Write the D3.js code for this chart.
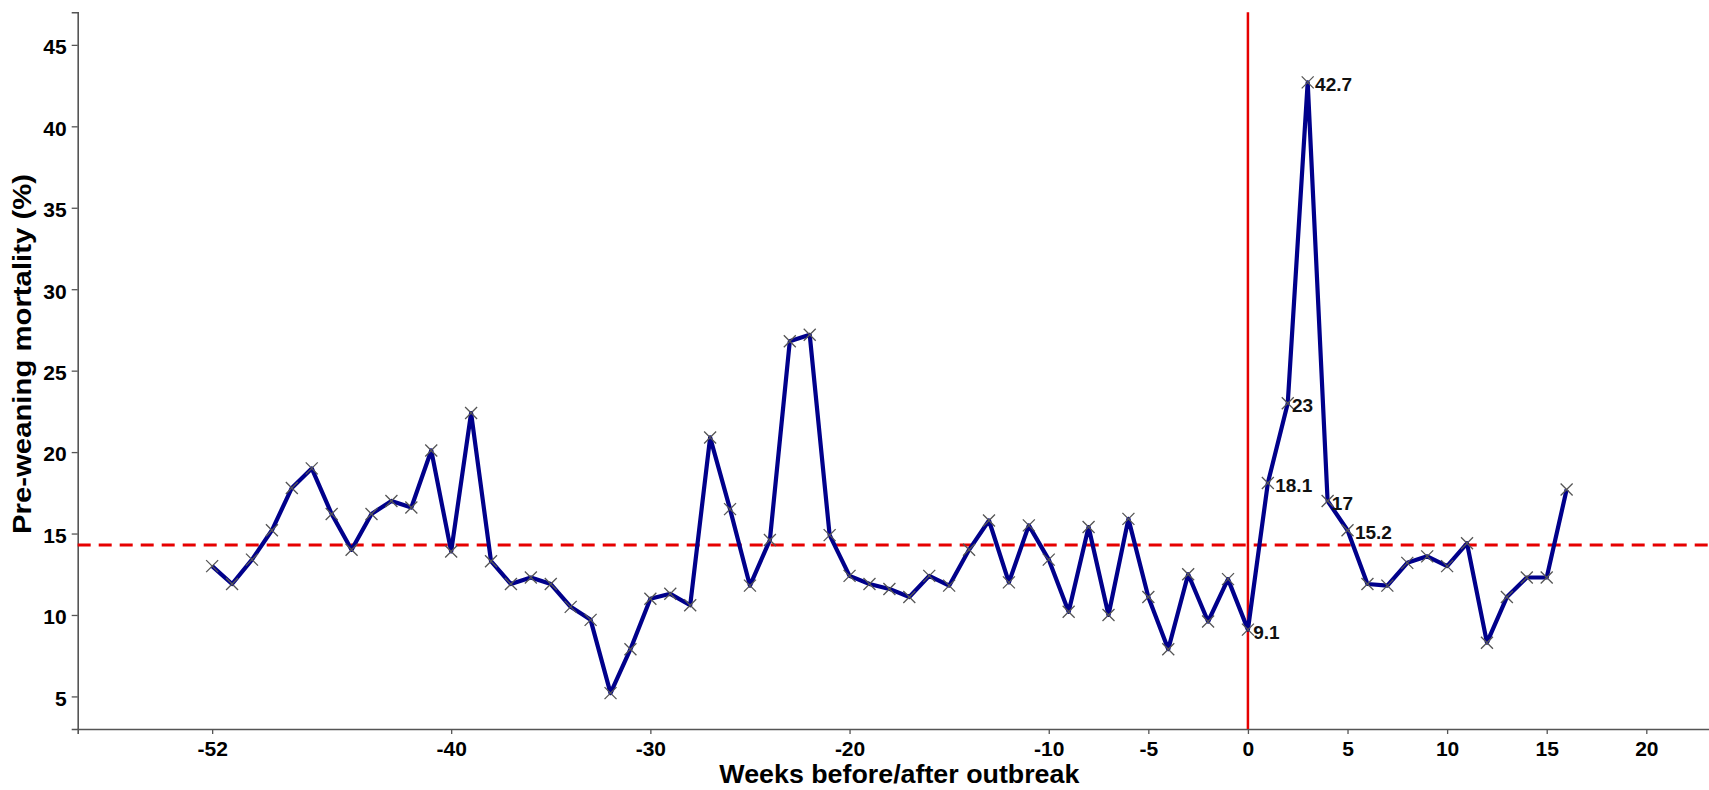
<!DOCTYPE html>
<html>
<head>
<meta charset="utf-8">
<script src="https://cdn.jsdelivr.net/npm/d3@7"></script>
<style>
  body { margin: 0; background: #fff; }
  svg { display: block; font-family: "Liberation Sans", Arial, sans-serif; }
</style>
</head>
<body>
<div id="chart"></div>
<script>
var width = 1709,
  height = 790;

// weeks relative to the outbreak (week 0)
var weeks = [-52, -51, -50, -49, -48, -47, -46, -45, -44, -43, -42, -41, -40, -39, -38, -37, -36, -35,
  -34, -33, -32, -31, -30, -29, -28, -27, -26, -25, -24, -23, -22, -21, -20, -19, -18, -17, -16, -15,
  -14, -13, -12, -11, -10, -9, -8, -7, -6, -5, -4, -3, -2, -1, 0, 1, 2, 3, 4, 5, 6, 7, 8, 9, 10,
  11, 12, 13, 14, 15, 16];

// pre-weaning mortality (%)
var mortality = [13.0, 11.9, 13.4, 15.2, 17.8, 19.0, 16.2, 14.0, 16.2, 17.0, 16.6, 20.1, 13.9, 22.4, 13.3, 11.9, 12.3, 11.9,
  10.5, 9.7, 5.2, 7.9, 11.0, 11.3, 10.6, 20.9, 16.5, 11.8, 14.6, 26.8, 27.2, 14.9, 12.4, 11.9, 11.6, 11.1, 12.4, 11.8,
  14.0, 15.8, 12.0, 15.5, 13.4, 10.2, 15.4, 10.0, 15.9, 11.1, 7.9, 12.5, 9.6, 12.2, 9.1, 18.1, 23.0, 42.7, 17.0, 15.2, 11.9, 11.8, 13.2, 13.6, 13.0,
  14.4, 8.3, 11.1, 12.3, 12.3, 17.7];

var labelWeeks = [0, 1, 2, 3, 4, 5];
var labelTexts = ["9.1", "18.1", "23", "42.7", "17", "15.2"];

var baseline = 14.3;
var outbreakWeek = 0;

var xTicks = [-52, -40, -30, -20, -10, -5, 0, 5, 10, 15, 20];
var yTicks = [5, 10, 15, 20, 25, 30, 35, 40, 45];

var data = weeks.map(function(w, i) { return { week: w, value: mortality[i] }; });

var plotLeft = 77.7, plotTop = 12.3, plotBottom = 729, plotRight = 1721;

var x = d3.scaleLinear().domain([-58.75, 23.75]).range([plotLeft, plotRight]);
var y = d3.scaleLinear().domain([3, 47]).range([plotBottom, plotTop]);

var svg = d3.select("#chart").append("svg")
  .attr("width", width)
  .attr("height", height);

// axes
var xAxis = svg.append("g")
  .attr("transform", "translate(0," + plotBottom + ")")
  .call(d3.axisBottom(x).tickValues(xTicks).tickFormat(function(d) { return String(d); })
    .tickSizeOuter(0).tickSize(5).tickPadding(7));

var yAxis = svg.append("g")
  .attr("transform", "translate(" + plotLeft + ",0)")
  .call(d3.axisLeft(y).tickValues(yTicks).tickSizeOuter(0).tickSize(6).tickPadding(5));

[xAxis, yAxis].forEach(function(a) {
  a.select(".domain").attr("stroke", "#555").attr("stroke-width", 1.6);
  a.selectAll(".tick line").attr("stroke", "#555").attr("stroke-width", 1.3);
  a.selectAll(".tick text")
    .attr("fill", "#000")
    .style("font-size", "21px")
    .style("font-weight", "bold");
});
yAxis.selectAll(".tick text").attr("dy", "0.42em");
xAxis.selectAll(".tick text").attr("dy", "0.71em");

// reference lines
svg.append("line")
  .attr("x1", plotLeft).attr("x2", plotRight)
  .attr("y1", y(baseline)).attr("y2", y(baseline))
  .attr("stroke", "#e60000")
  .attr("stroke-width", 3)
  .attr("stroke-dasharray", "13,8");

svg.append("line")
  .attr("x1", x(outbreakWeek)).attr("x2", x(outbreakWeek))
  .attr("y1", plotTop).attr("y2", plotBottom)
  .attr("stroke", "#e60000")
  .attr("stroke-width", 2.5);

// series line
var line = d3.line()
  .x(function(d) { return x(d.week); })
  .y(function(d) { return y(d.value); });

svg.append("path")
  .datum(data)
  .attr("fill", "none")
  .attr("stroke", "#00008b")
  .attr("stroke-width", 4.2)
  .attr("stroke-linejoin", "round")
  .attr("d", line);

// x-shaped markers
svg.selectAll("path.marker")
  .data(data)
  .enter().append("path")
  .attr("class", "marker")
  .attr("d", "M-6,-6L6,6M-6,6L6,-6")
  .attr("transform", function(d) { return "translate(" + x(d.week) + "," + y(d.value) + ")"; })
  .attr("stroke", "#555")
  .attr("stroke-width", 1.3)
  .attr("fill", "none");

// value labels
var labels = svg.selectAll("text.vlabel")
  .data(labelWeeks)
  .enter().append("text")
  .attr("class", "vlabel")
  .attr("y", function(w) { return y(mortality[weeks.indexOf(w)]); })
  .attr("dy", "0.48em")
  .style("font-size", "19px")
  .style("font-weight", "bold")
  .attr("fill", "#111")
  .text(function(w, i) { return labelTexts[i]; });

labels.attr("x", function(w) {
  return x(w) + 0.2 * this.getComputedTextLength();
});

// axis titles
svg.append("text")
  .attr("x", (plotLeft + plotRight) / 2)
  .attr("y", 783)
  .attr("text-anchor", "middle")
  .attr("textLength", 360)
  .attr("lengthAdjust", "spacingAndGlyphs")
  .style("font-size", "26px")
  .style("font-weight", "bold")
  .text("Weeks before/after outbreak");

svg.append("text")
  .attr("transform", "translate(31,354) rotate(-90)")
  .attr("text-anchor", "middle")
  .attr("textLength", 360)
  .attr("lengthAdjust", "spacingAndGlyphs")
  .style("font-size", "26px")
  .style("font-weight", "bold")
  .text("Pre-weaning mortality (%)");
</script>
</body>
</html>
